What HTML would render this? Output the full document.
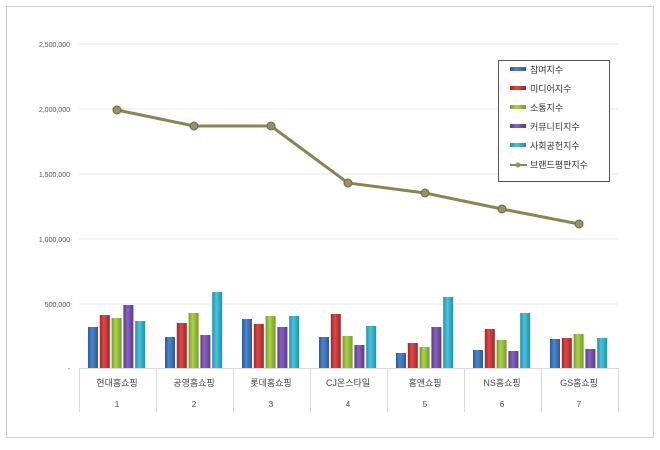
<!DOCTYPE html>
<html><head><meta charset="utf-8"><style>
body{margin:0;background:#fff}
text{font-family:"Liberation Sans","Noto Sans CJK KR",sans-serif}
</style></head><body>
<svg width="660" height="445" xmlns="http://www.w3.org/2000/svg">
<defs>
<linearGradient id="b" x1="0" x2="1"><stop offset="0" stop-color="#2a5a9c"/><stop offset=".4" stop-color="#4a86d0"/><stop offset="1" stop-color="#2a5a9c"/></linearGradient>
<linearGradient id="r" x1="0" x2="1"><stop offset="0" stop-color="#a02424"/><stop offset=".4" stop-color="#e04848"/><stop offset="1" stop-color="#a02424"/></linearGradient>
<linearGradient id="g" x1="0" x2="1"><stop offset="0" stop-color="#779a26"/><stop offset=".4" stop-color="#a8d44a"/><stop offset="1" stop-color="#779a26"/></linearGradient>
<linearGradient id="p" x1="0" x2="1"><stop offset="0" stop-color="#5a3a8a"/><stop offset=".4" stop-color="#8a62c0"/><stop offset="1" stop-color="#5a3a8a"/></linearGradient>
<linearGradient id="c" x1="0" x2="1"><stop offset="0" stop-color="#2090a8"/><stop offset=".4" stop-color="#48c4dc"/><stop offset="1" stop-color="#2090a8"/></linearGradient>
</defs>
<rect x="6.5" y="6.5" width="647" height="431" fill="#fff" stroke="#d0d0d0"/>
<g stroke="#e6e6e6">
<line x1="79" x2="618" y1="44" y2="44"/><line x1="79" x2="618" y1="109" y2="109"/><line x1="79" x2="618" y1="174" y2="174"/><line x1="79" x2="618" y1="239" y2="239"/><line x1="79" x2="618" y1="304" y2="304"/>
</g>
<g font-size="7" fill="#555" text-anchor="end">
<text x="70" y="47">2,500,000</text><text x="70" y="112">2,000,000</text><text x="70" y="177">1,500,000</text><text x="70" y="242">1,000,000</text><text x="70" y="307">500,000</text><text x="70" y="371">-</text>
</g>
<g stroke="#d9d9d9">
<line x1="79" x2="618" y1="368.5" y2="368.5"/>
<line x1="79.5" x2="79.5" y1="368" y2="412"/><line x1="156.5" x2="156.5" y1="368" y2="412"/><line x1="233.5" x2="233.5" y1="368" y2="412"/><line x1="310.5" x2="310.5" y1="368" y2="412"/><line x1="387.5" x2="387.5" y1="368" y2="412"/><line x1="464.5" x2="464.5" y1="368" y2="412"/><line x1="541.5" x2="541.5" y1="368" y2="412"/><line x1="618.5" x2="618.5" y1="368" y2="412"/>
</g>
<g>
<rect x="88" y="327" width="10" height="41" fill="url(#b)"/><rect x="99.8" y="315" width="10" height="53" fill="url(#r)"/><rect x="111.6" y="318" width="10" height="50" fill="url(#g)"/><rect x="123.4" y="305" width="10" height="63" fill="url(#p)"/><rect x="135.2" y="321" width="10" height="47" fill="url(#c)"/>
<rect x="165" y="337" width="10" height="31" fill="url(#b)"/><rect x="176.8" y="323" width="10" height="45" fill="url(#r)"/><rect x="188.6" y="313" width="10" height="55" fill="url(#g)"/><rect x="200.4" y="335" width="10" height="33" fill="url(#p)"/><rect x="212.2" y="292" width="10" height="76" fill="url(#c)"/>
<rect x="242" y="319" width="10" height="49" fill="url(#b)"/><rect x="253.8" y="324" width="10" height="44" fill="url(#r)"/><rect x="265.6" y="316" width="10" height="52" fill="url(#g)"/><rect x="277.4" y="327" width="10" height="41" fill="url(#p)"/><rect x="289.2" y="316" width="10" height="52" fill="url(#c)"/>
<rect x="319" y="337" width="10" height="31" fill="url(#b)"/><rect x="330.8" y="314" width="10" height="54" fill="url(#r)"/><rect x="342.6" y="336" width="10" height="32" fill="url(#g)"/><rect x="354.4" y="345" width="10" height="23" fill="url(#p)"/><rect x="366.2" y="326" width="10" height="42" fill="url(#c)"/>
<rect x="396" y="353" width="10" height="15" fill="url(#b)"/><rect x="407.8" y="343" width="10" height="25" fill="url(#r)"/><rect x="419.6" y="347" width="10" height="21" fill="url(#g)"/><rect x="431.4" y="327" width="10" height="41" fill="url(#p)"/><rect x="443.2" y="297" width="10" height="71" fill="url(#c)"/>
<rect x="473" y="350" width="10" height="18" fill="url(#b)"/><rect x="484.8" y="329" width="10" height="39" fill="url(#r)"/><rect x="496.6" y="340" width="10" height="28" fill="url(#g)"/><rect x="508.4" y="351" width="10" height="17" fill="url(#p)"/><rect x="520.2" y="313" width="10" height="55" fill="url(#c)"/>
<rect x="550" y="339" width="10" height="29" fill="url(#b)"/><rect x="561.8" y="338" width="10" height="30" fill="url(#r)"/><rect x="573.6" y="334" width="10" height="34" fill="url(#g)"/><rect x="585.4" y="349" width="10" height="19" fill="url(#p)"/><rect x="597.2" y="338" width="10" height="30" fill="url(#c)"/>
</g>
<g font-size="9" fill="#444" text-anchor="middle">
<text x="117" y="386">현대홈쇼핑</text><text x="194" y="386">공영홈쇼핑</text><text x="271" y="386">롯데홈쇼핑</text><text x="348" y="386">CJ온스타일</text><text x="425" y="386">홈앤쇼핑</text><text x="502" y="386">NS홈쇼핑</text><text x="579" y="386">GS홈쇼핑</text>
<text x="117" y="407" font-size="8">1</text><text x="194" y="407" font-size="8">2</text><text x="271" y="407" font-size="8">3</text><text x="348" y="407" font-size="8">4</text><text x="425" y="407" font-size="8">5</text><text x="502" y="407" font-size="8">6</text><text x="579" y="407" font-size="8">7</text>
</g>
<polyline points="117,110 194,126 271,126 348,183 425,193 502,209 579,224" fill="none" stroke="#8b8450" stroke-width="3"/>
<g fill="#9a9060" stroke="#6e6838">
<circle cx="117" cy="110" r="4"/><circle cx="194" cy="126" r="4"/><circle cx="271" cy="126" r="4"/><circle cx="348" cy="183" r="4"/><circle cx="425" cy="193" r="4"/><circle cx="502" cy="209" r="4"/><circle cx="579" cy="224" r="4"/>
</g>
<rect x="498.5" y="60.5" width="111" height="121" fill="#fff" stroke="#555"/>
<g font-size="9" fill="#333">
<rect x="510" y="67" width="16" height="4" fill="url(#b)"/><text x="530" y="73">참여지수</text>
<rect x="510" y="86" width="16" height="4" fill="url(#r)"/><text x="530" y="92">미디어지수</text>
<rect x="510" y="105" width="16" height="4" fill="url(#g)"/><text x="530" y="111">소통지수</text>
<rect x="510" y="124" width="16" height="4" fill="url(#p)"/><text x="530" y="130">커뮤니티지수</text>
<rect x="510" y="143" width="16" height="4" fill="url(#c)"/><text x="530" y="149">사회공헌지수</text>
<line x1="510" x2="527" y1="165" y2="165" stroke="#8b8450" stroke-width="2"/><circle cx="518" cy="165" r="2.5" fill="#9a9060"/><text x="530" y="168">브랜드평판지수</text>
</g>
</svg>
</body></html>
